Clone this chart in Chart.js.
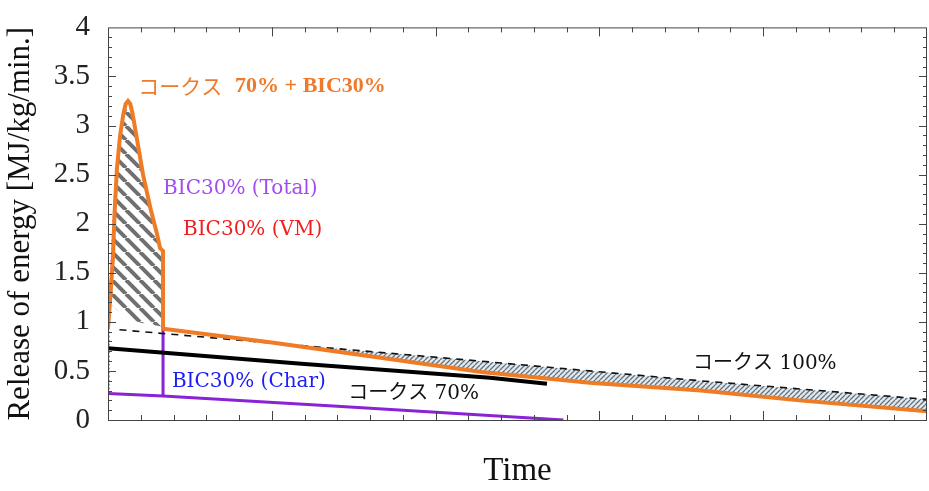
<!DOCTYPE html>
<html>
<head>
<meta charset="utf-8">
<script src="https://cdn.jsdelivr.net/npm/chart.js@4.4.1/dist/chart.umd.min.js"></script>
<style>
  body { margin: 0; background: #fff; }
  #wrap { width: 929px; height: 491px; }
</style>
</head>
<body>
<div id="wrap"><canvas id="energy-chart" width="929" height="491"></canvas></div>
<script>
// values (x = time in tick units, y = MJ/kg/min)
const cokeBicX = [0, 0.08, 0.15, 0.2, 0.27, 0.37, 0.47, 0.54, 0.61, 0.68, 0.75, 0.89, 1.07, 1.3, 1.5, 1.59, 1.68, 1.68, 5, 8, 11.4, 14.7, 18.1, 21.1, 25];
const cokeBicY = [0.93, 1.3, 1.65, 2.1, 2.55, 2.9, 3.12, 3.22, 3.25, 3.22, 3.12, 2.85, 2.5, 2.15, 1.89, 1.75, 1.72, 0.93, 0.79, 0.65, 0.49, 0.38, 0.3, 0.2, 0.09];

const peakBaseX = [0.06, 0.12, 0.27, 0.6, 1.0, 1.68];
const peakBaseY = [1.2, 1.17, 1.12, 1.03, 0.99, 0.95];

const coke100X = [0.35, 11.36, 18.07, 25];
const coke100Y = [0.92, 0.6, 0.4, 0.21];

const coke70X = [0, 6, 11.66, 13.4];
const coke70Y = [0.73, 0.57, 0.43, 0.37];

const bicCharX = [0, 1.68, 7, 13.9];
const bicCharY = [0.27, 0.245, 0.14, 0];

const bicDropX = [1.68, 1.68];
const bicDropY = [0.93, 0.245];

const bicTotalX = [0.03, 0.03, 0.1, 0.2, 0.35];
const bicTotalY = [0.27, 1.0, 1.6, 2.3, 2.9];

const yTicks = [0, 0.5, 1, 1.5, 2, 2.5, 3, 3.5, 4];

const notes = [
  { text: "コークス", x: 0.92, y: 3.40, color: "#ee7a2c", font: '21px "Noto Sans CJK JP"' },
  { text: "70% + BIC30%", x: 3.88, y: 3.40, color: "#ee7a2c", font: 'bold 22px "Liberation Serif"' },
  { text: "BIC30% (Total)", x: 1.68, y: 2.36, color: "#a04cf0", font: '20px "DejaVu Serif"' },
  { text: "BIC30% (VM)", x: 2.29, y: 1.94, color: "#f01e1e", font: '20px "DejaVu Serif"' },
  { text: "BIC30% (Char)", x: 1.95, y: 0.39, color: "#1c1cf5", font: '20px "DejaVu Serif"' },
  { text: "コークス 70%", x: 7.33, y: 0.27, color: "#111", font: '20px "DejaVu Serif", "Noto Sans CJK JP"' },
  { text: "コークス 100%", x: 17.86, y: 0.57, color: "#111", font: '20px "DejaVu Serif", "Noto Sans CJK JP"' }
];

const pts = (xs, ys) => xs.map((x, i) => ({ x: x, y: ys[i] }));

// hatch patterns
function makeHatch(size, bg, fg, width, back) {
  const c = document.createElement("canvas");
  c.width = size; c.height = size;
  const g = c.getContext("2d");
  if (bg) { g.fillStyle = bg; g.fillRect(0, 0, size, size); }
  g.strokeStyle = fg;
  g.lineWidth = width;
  for (let k = -1; k <= 1; k++) {
    g.beginPath();
    if (back) { g.moveTo(k * size, 0); g.lineTo(k * size + size, size); }
    else { g.moveTo(k * size, size); g.lineTo(k * size + size, 0); }
    g.stroke();
  }
  return g.createPattern(c, "repeat");
}
const hatchPeak = makeHatch(14, null, "#707070", 4, true);
const hatchTail = makeHatch(5, "#e2eaf1", "#66737e", 1.3, false);

const clear = "rgba(0,0,0,0)";

// frame + inward ticks on all four sides
const framePlugin = {
  id: "frame",
  afterDraw(chart) {
    const { ctx, chartArea: a, scales } = chart;
    const xs = scales.x, ys = scales.y;
    ctx.save();
    ctx.strokeStyle = "#444";
    ctx.lineWidth = 1;
    ctx.strokeRect(a.left + 0.5, a.top + 0.5, a.right - a.left - 1, a.bottom - a.top);
    ctx.beginPath();
    for (let v = 1; v < 25; v++) {
      const px = Math.round(xs.getPixelForValue(v)) + 0.5;
      const len = v % 5 === 0 ? 9 : 5;
      ctx.moveTo(px, a.bottom); ctx.lineTo(px, a.bottom - len);
      ctx.moveTo(px, a.top); ctx.lineTo(px, a.top + len);
    }
    for (let i = 1; i < 40; i++) {
      const py = Math.round(ys.getPixelForValue(i / 10)) + 0.5;
      const len = i % 5 === 0 ? 8 : 4;
      ctx.moveTo(a.left, py); ctx.lineTo(a.left + len, py);
      ctx.moveTo(a.right, py); ctx.lineTo(a.right - len, py);
    }
    ctx.stroke();
    ctx.restore();
  }
};

const notesPlugin = {
  id: "notes",
  afterDraw(chart) {
    const { ctx, scales } = chart;
    ctx.save();
    ctx.textAlign = "left";
    ctx.textBaseline = "middle";
    notes.forEach(n => {
      ctx.font = n.font;
      ctx.fillStyle = n.color;
      ctx.fillText(n.text, scales.x.getPixelForValue(n.x), scales.y.getPixelForValue(n.y));
    });
    ctx.restore();
  }
};

const line = (data, color, width, extra) => Object.assign({
  data: data,
  borderColor: color,
  borderWidth: width,
  pointRadius: 0,
  tension: 0,
  fill: false
}, extra || {});

new Chart(document.querySelector("#energy-chart"), {
  type: "line",
  data: {
    datasets: [
      line(pts(cokeBicX, cokeBicY), "#ef7b24", 4, { order: 1, label: "コークス 70% + BIC30%" }),
      line(pts(peakBaseX, peakBaseY), clear, 0, { order: 8, fill: { target: 0, above: clear, below: hatchPeak } }),
      line(pts(coke100X, coke100Y), "#111", 1.6, { order: 3, borderDash: [7, 6], fill: { target: 0, above: hatchTail, below: clear }, label: "コークス 100%" }),
      line(pts(coke70X, coke70Y), "#000", 4, { order: 2, label: "コークス 70%" }),
      line(pts(bicCharX, bicCharY), "#8a22d6", 3, { order: 4, label: "BIC30% (Char)" }),
      line(pts(bicDropX, bicDropY), "#8a22d6", 3, { order: 5 }),
      line(pts(bicTotalX, bicTotalY), "#c844e8", 1.5, { order: 6, borderDash: [2, 2], label: "BIC30% (Total)" })
    ]
  },
  options: {
    responsive: false,
    animation: false,
    layout: { padding: { top: 24, right: 2, left: 0, bottom: 0 } },
    plugins: { legend: { display: false }, tooltip: { enabled: false } },
    scales: {
      x: {
        type: "linear",
        min: 0, max: 25,
        grid: { display: false },
        border: { display: false },
        ticks: { display: false, stepSize: 1 },
        title: { display: true, text: "Time", color: "#111", font: { family: "Liberation Serif", size: 33 }, padding: { top: 0, bottom: 0 } },
        afterFit(s) { s.height = 71; }
      },
      y: {
        min: 0, max: 4,
        grid: { display: false },
        border: { display: false },
        afterBuildTicks(s) { s.ticks = yTicks.map(v => ({ value: v })); },
        ticks: { color: "#222", padding: 10, font: { family: "Liberation Serif", size: 29 }, callback: v => String(v) },
        title: { display: true, text: "Release of energy [MJ/kg/min.]", color: "#111", font: { family: "Liberation Serif", size: 31 }, padding: { top: 2, bottom: 2 } },
        afterFit(s) { s.width = 108; }
      }
    }
  },
  plugins: [framePlugin, notesPlugin]
});
</script>
</body>
</html>
